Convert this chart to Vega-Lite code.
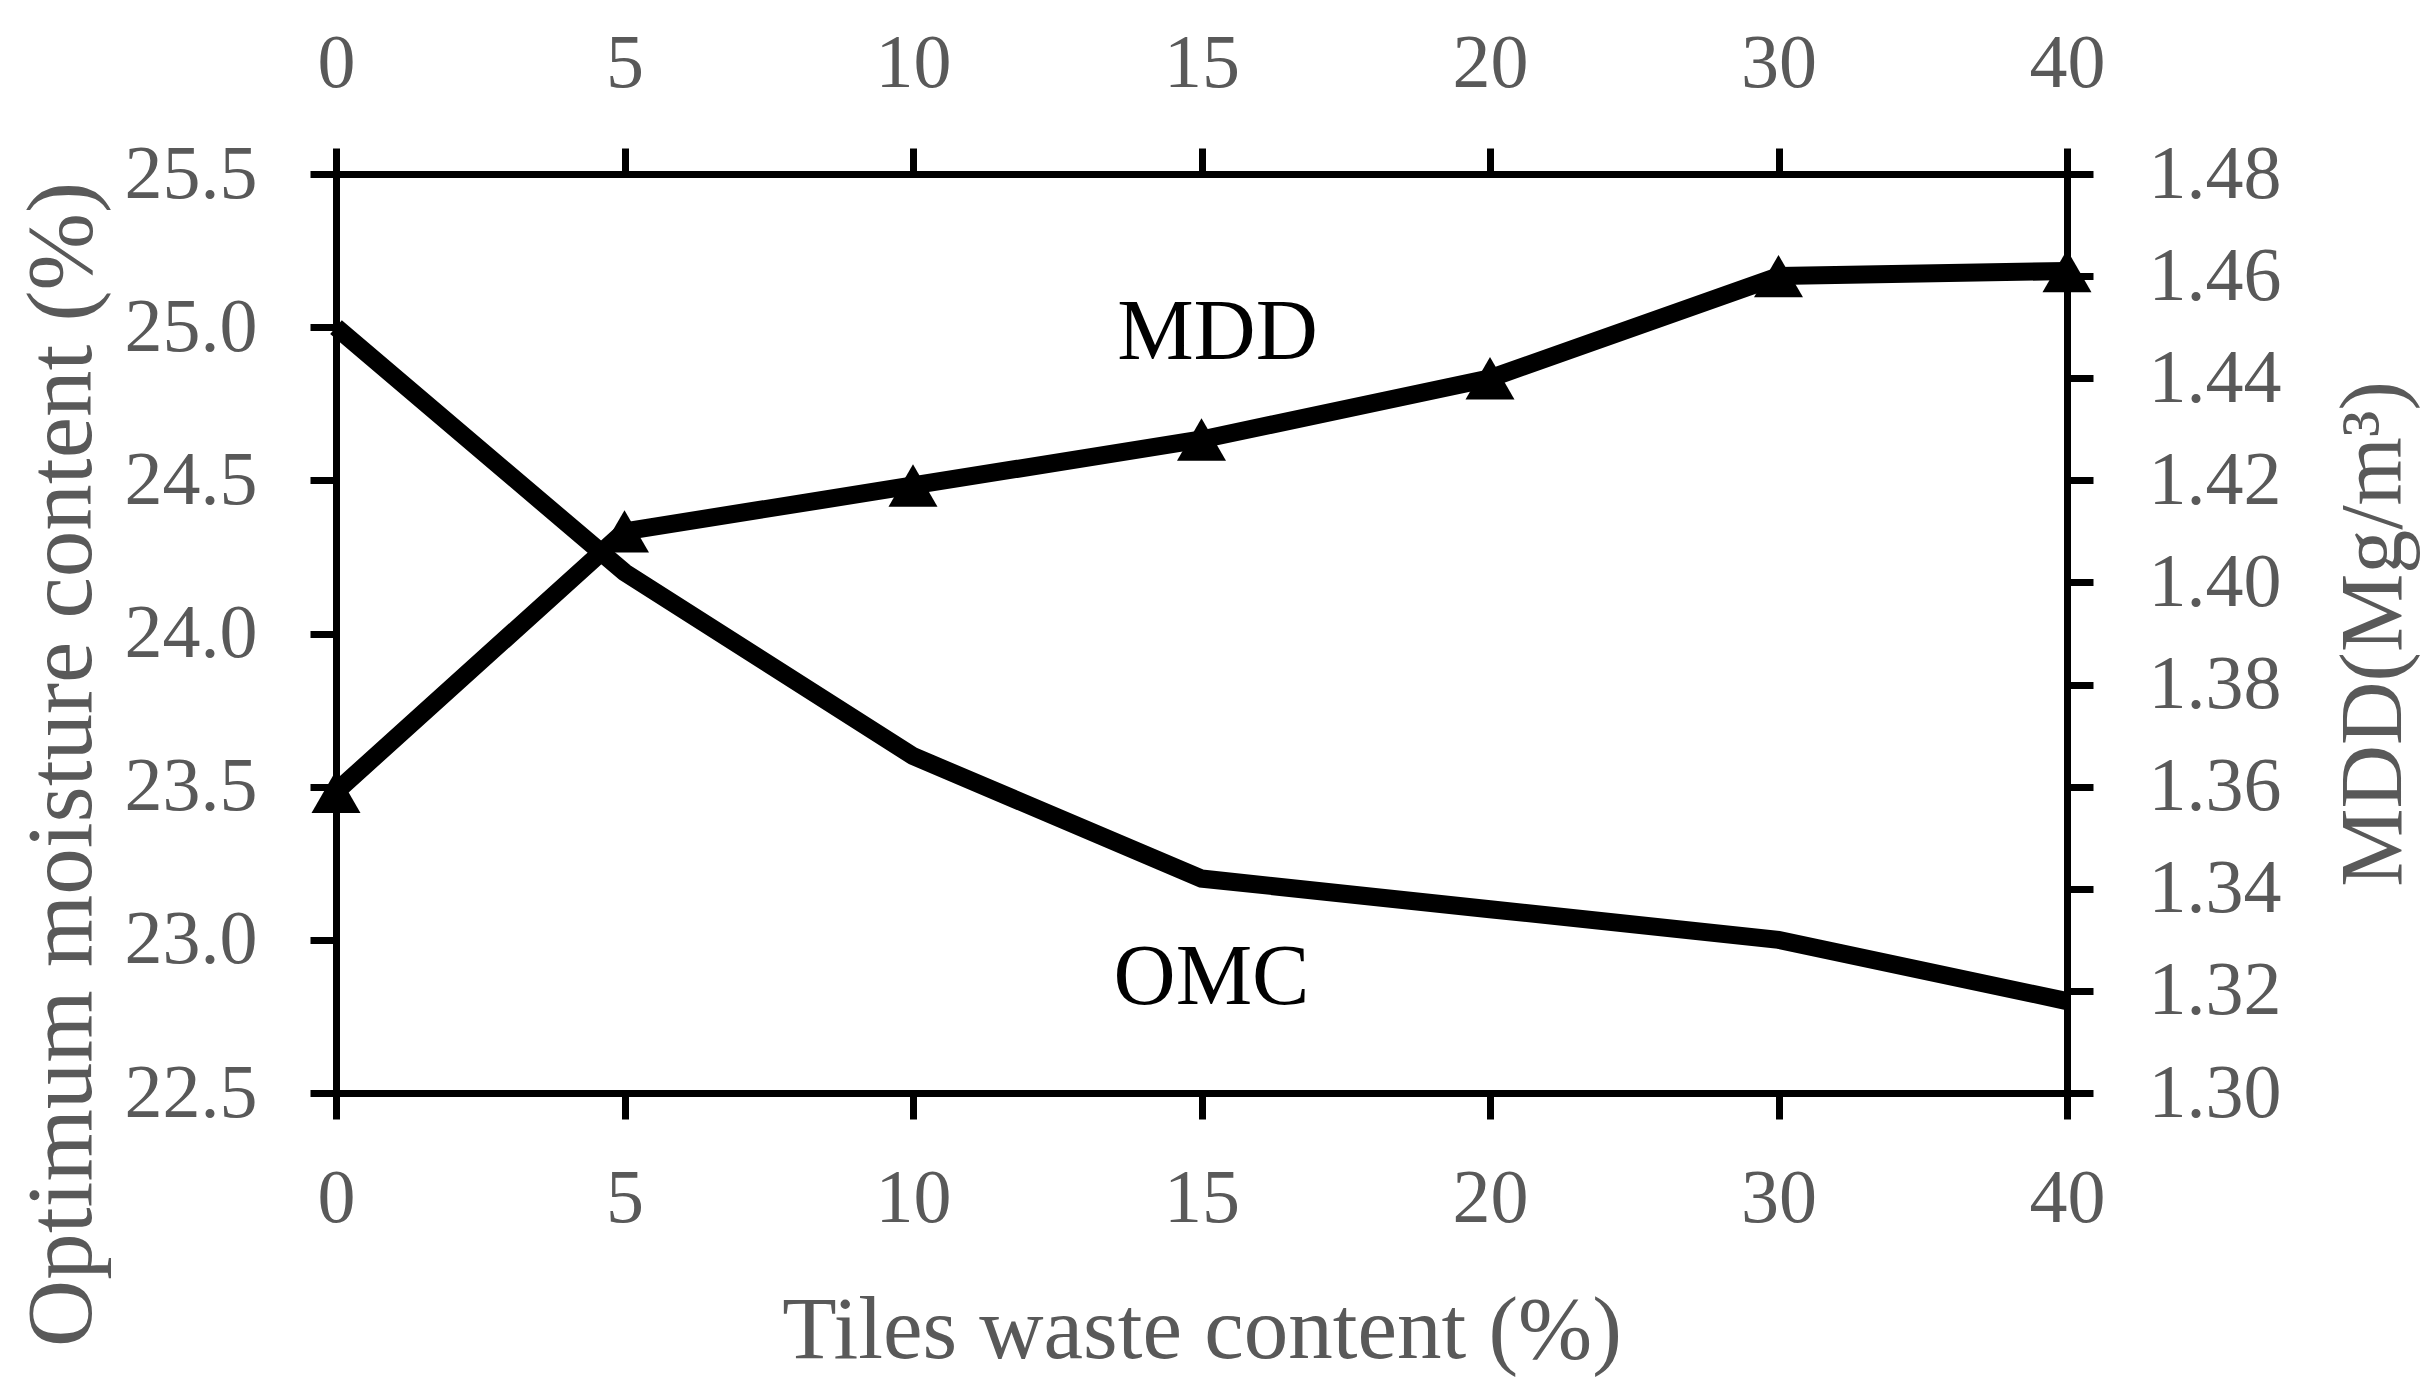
{
  "$schema": "https://vega.github.io/schema/vega-lite/v6.json",
  "width": 1731,
  "height": 919,
  "autosize": {"type": "none"},
  "padding": {"left": 336, "top": 174, "right": 358, "bottom": 305},
  "background": "white",
  "config": {
    "view": {"stroke": null},
    "axis": {
      "domainColor": "black", "domainWidth": 7, "tickColor": "black", "tickWidth": 7, "tickSize": 26,
      "labelColor": "#595959", "labelFont": "Liberation Serif", "labelFontSize": 76,
      "titleColor": "#595959", "titleFont": "Liberation Serif", "titleFontSize": 88, "titleFontWeight": "normal",
      "grid": false, "domainCap": "square"
    }
  },
  "data": {"values": [
    {"x": 0, "omc": 25.0, "mdd": 1.359},
    {"x": 5, "omc": 24.2, "mdd": 1.410},
    {"x": 10, "omc": 23.6, "mdd": 1.419},
    {"x": 15, "omc": 23.2, "mdd": 1.428},
    {"x": 20, "omc": 23.1, "mdd": 1.440},
    {"x": 30, "omc": 23.0, "mdd": 1.460},
    {"x": 40, "omc": 22.8, "mdd": 1.461}
  ]},
  "layer": [
    {
      "encoding": {
        "x": {"field": "x", "type": "ordinal", "scale": {"type": "point", "padding": 0},
              "axis": {"orient": "bottom", "title": "Tiles waste content (%)", "labelAngle": 0, "labelPadding": 42,
                       "titleY": 237, "titleBaseline": "middle", "titleFontSize": 89}},
        "y": {"field": "omc", "type": "quantitative", "scale": {"domain": [22.5, 25.5], "zero": false, "nice": false},
              "axis": {"orient": "left", "title": "Optimum moisture content (%)", "values": [22.5, 23, 23.5, 24, 24.5, 25, 25.5],
                       "format": ".1f", "labelPadding": 53, "titleX": -274, "titleY": 590, "titleBaseline": "middle", "titleAngle": -90,
                       "titleFontSize": 93}}
      },
      "layer": [
        {"mark": {"type": "line", "color": "black", "strokeWidth": 18, "strokeJoin": "miter"}},
        {"data": {"values": [{"x": 15, "omc": 22.876, "label": "OMC"}]},
         "mark": {"type": "text", "font": "Liberation Serif", "fontSize": 86, "color": "black", "dx": 10, "baseline": "middle"},
         "encoding": {"text": {"field": "label"}}}
      ]
    },
    {
      "encoding": {
        "x": {"field": "x", "type": "ordinal", "scale": {"type": "point", "padding": 0},
              "axis": {"orient": "top", "title": null, "labelAngle": 0, "labelPadding": 46}},
        "y": {"field": "mdd", "type": "quantitative", "scale": {"domain": [1.30, 1.48], "zero": false, "nice": false},
              "axis": {"orient": "right", "title": "MDD(Mg/m³)", "values": [1.30, 1.32, 1.34, 1.36, 1.38, 1.40, 1.42, 1.44, 1.46, 1.48],
                       "format": ".2f", "labelPadding": 55, "titleX": 307, "titleBaseline": "middle", "titleAngle": -90}}
      },
      "layer": [
        {"mark": {"type": "line", "color": "black", "strokeWidth": 18, "strokeJoin": "miter",
                  "point": {"shape": "triangle-up", "size": 2400, "filled": true, "color": "black", "opacity": 1}}},
        {"data": {"values": [{"x": 15, "mdd": 1.4488, "label": "MDD"}]},
         "mark": {"type": "text", "font": "Liberation Serif", "fontSize": 86, "color": "black", "dx": 16, "baseline": "middle"},
         "encoding": {"text": {"field": "label"}}}
      ]
    }
  ],
  "resolve": {"scale": {"y": "independent"}, "axis": {"x": "independent"}}
}
